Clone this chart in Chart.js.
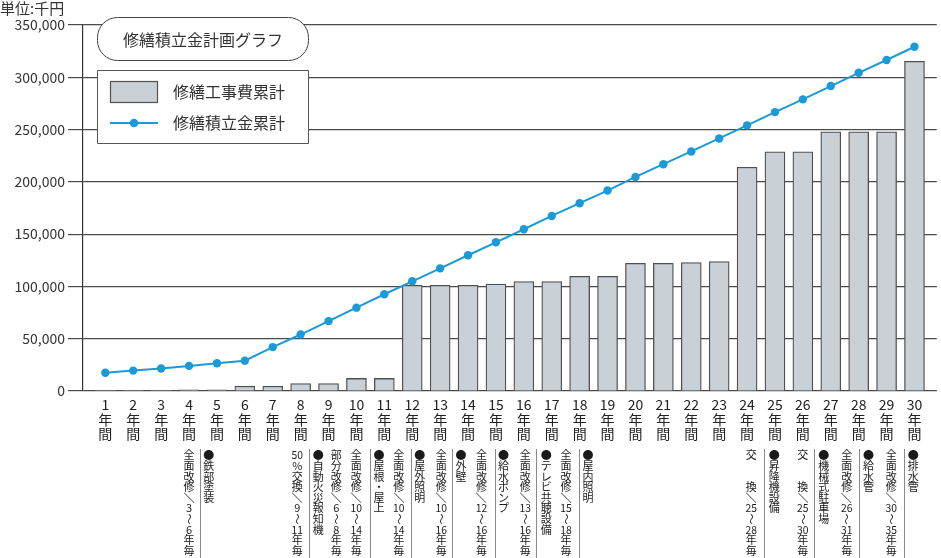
<!DOCTYPE html>
<html>
<head>
<meta charset="utf-8">
<script src="https://cdn.jsdelivr.net/npm/chart.js@4.4.1/dist/chart.umd.min.js"></script>
<style>
  html, body { margin: 0; padding: 0; background: #fff; }
  canvas { display: block; }
</style>
</head>
<body>
<canvas id="planChart" width="941" height="558"></canvas>
<script>
// 年数
const years = [1, 2, 3, 4, 5, 6, 7, 8, 9, 10, 11, 12, 13, 14, 15, 16, 17, 18, 19, 20, 21, 22, 23, 24, 25, 26, 27, 28, 29, 30];

// 修繕工事費累計 (千円)
const repairTotal = [0, 0, 0, 1000, 1000, 4600, 4600, 7200, 7200, 12000, 12000, 101000, 101000, 101000, 102300, 104600, 104600, 109600, 109600, 122100, 122100, 122800, 123700, 214000, 228700, 228700, 247800, 247800, 247800, 315200];

// 修繕積立金累計 (千円)
const reserveTotal = [17500, 19500, 21500, 24000, 26500, 29000, 42000, 54000, 66800, 79700, 92500, 104900, 117300, 129800, 142200, 154700, 167400, 179600, 191700, 204700, 216900, 229100, 241500, 254000, 266700, 278900, 291600, 304300, 316500, 329200];

// 縦軸の目盛り
const yTicks = [0, 50000, 100000, 150000, 200000, 250000, 300000, 350000];

// 下の注記 (縦書き)
const noteTexts = [
    '全面改修／3〜6年毎', '●鉄部塗装',
    '50%交換／9〜11年毎', '●自動火災報知機', '部分改修／6〜8年毎', '全面改修／10〜14年毎',
    '●屋根・屋上', '全面改修／10〜14年毎',
    '●屋外照明', '全面改修／10〜16年毎',
    '●外壁', '全面改修／12〜16年毎',
    '●給水ポンプ', '全面改修／13〜16年毎',
    '●テレビ共聴設備', '全面改修／15〜18年毎',
    '●屋内照明',
    '交　　換／25〜28年毎', '●昇降機設備',
    '交　　換／25〜30年毎', '●機械式駐車場',
    '全面改修／26〜31年毎', '●給水管',
    '全面改修／30〜35年毎', '●排水管'
];
// 注記の位置 (年の目盛り単位)
const noteAt = [4.0, 4.71, 7.88, 8.63, 9.28, 9.99, 10.81, 11.52, 12.27, 13.04, 13.75, 14.48,
    15.27, 16.05, 16.8, 17.51, 18.3, 24.15, 24.97, 26.0, 26.75, 27.57, 28.35, 29.17, 29.96];
const separatorAt = [4.41, 8.31, 10.47, 11.95, 13.41, 14.98, 16.45, 17.98, 24.61, 26.41, 28.01, 29.62];

const FONT = '"Noto Sans CJK JP", "Noto Sans", sans-serif';
const BLUE = '#1a9ad6';
const BAR_FILL = '#c9d1d7';
const DARK = '#505050';

function splitCells(str) {
    return str.match(/\d+|./gu) || [];
}

// 一文字ずつ縦に並べる (数字2桁は横組み)
function drawVertical(ctx, str, x, y0, pitch) {
    splitCells(str).forEach((t, k) => {
        const cy = y0 + k * pitch + pitch / 2;
        if (t === '〜' || t === '／') {
            ctx.save();
            ctx.translate(x, cy);
            ctx.rotate(Math.PI / 2);
            ctx.fillText(t, 0, 0);
            ctx.restore();
        } else if (t.length > 1) {
            ctx.fillText(t, x, cy, 11.5);
        } else {
            ctx.fillText(t, x, cy);
        }
    });
}

function roundRect(ctx, x, y, w, h, r) {
    ctx.beginPath();
    ctx.moveTo(x + r, y);
    ctx.lineTo(x + w - r, y);
    ctx.arc(x + w - r, y + r, r, -Math.PI / 2, 0);
    ctx.lineTo(x + w, y + h - r);
    ctx.arc(x + w - r, y + h - r, r, 0, Math.PI / 2);
    ctx.lineTo(x + r, y + h);
    ctx.arc(x + r, y + h - r, r, Math.PI / 2, Math.PI);
    ctx.lineTo(x, y + r);
    ctx.arc(x + r, y + r, r, Math.PI, Math.PI * 1.5);
    ctx.closePath();
}

// 目盛りラベル、注記、タイトル、凡例を描く
const decorations = {
    id: 'decorations',
    afterDraw(chart) {
        const ctx = chart.ctx;
        const xs = chart.scales.x;
        ctx.save();

        // 単位
        ctx.fillStyle = '#333';
        ctx.font = '15px ' + FONT;
        ctx.textAlign = 'left';
        ctx.textBaseline = 'middle';
        ctx.fillText('単位:千円', 0, 8);

        // 年の目盛り
        ctx.fillStyle = '#222';
        ctx.textAlign = 'center';
        ctx.font = '14px ' + FONT;
        years.forEach(y => {
            const px = xs.getPixelForValue(y);
            ctx.fillText(String(y), px, 405);
            ctx.fillText('年', px, 419.5);
            ctx.fillText('間', px, 433.5);
        });

        // 区切り線
        ctx.strokeStyle = '#8a8a8a';
        ctx.lineWidth = 1;
        separatorAt.forEach(v => {
            const px = Math.round(xs.getPixelForValue(v)) + 0.5;
            ctx.beginPath();
            ctx.moveTo(px, 449);
            ctx.lineTo(px, 558);
            ctx.stroke();
        });

        // 注記
        ctx.font = '11px ' + FONT;
        ctx.fillStyle = '#1a1a1a';
        noteTexts.forEach((t, i) => {
            drawVertical(ctx, t, xs.getPixelForValue(noteAt[i]), 450, 10.6);
        });

        // タイトル
        ctx.fillStyle = '#fff';
        ctx.strokeStyle = '#444';
        ctx.lineWidth = 1;
        roundRect(ctx, 97.5, 17.5, 211, 43, 20);
        ctx.fill();
        ctx.stroke();
        ctx.fillStyle = '#333';
        ctx.font = '16px ' + FONT;
        ctx.textAlign = 'center';
        ctx.fillText('修繕積立金計画グラフ', 203, 39.5);

        // 凡例
        ctx.fillStyle = '#fff';
        ctx.strokeStyle = '#555';
        ctx.beginPath();
        ctx.rect(97.5, 70.5, 211, 73);
        ctx.fill();
        ctx.stroke();

        ctx.fillStyle = BAR_FILL;
        ctx.strokeStyle = DARK;
        ctx.lineWidth = 1.2;
        ctx.fillRect(110.5, 81.5, 47, 21);
        ctx.strokeRect(110.5, 81.5, 47, 21);

        ctx.strokeStyle = BLUE;
        ctx.lineWidth = 2;
        ctx.beginPath();
        ctx.moveTo(110, 123);
        ctx.lineTo(158, 123);
        ctx.stroke();
        ctx.fillStyle = BLUE;
        ctx.beginPath();
        ctx.arc(134, 123, 4.3, 0, Math.PI * 2);
        ctx.fill();

        ctx.fillStyle = '#333';
        ctx.font = '16px ' + FONT;
        ctx.textAlign = 'left';
        ctx.fillText(chart.data.datasets[0].label, 173, 92);
        ctx.fillText(chart.data.datasets[1].label, 173, 123);

        ctx.restore();
    }
};

document.addEventListener('DOMContentLoaded', () => {
    new Chart(document.getElementById('planChart').getContext('2d'), {
        data: {
            datasets: [{
                type: 'bar',
                label: '修繕工事費累計',
                data: years.map((y, i) => ({ x: y, y: repairTotal[i] })),
                backgroundColor: BAR_FILL,
                borderColor: DARK,
                // 0 の年は枠線も描かない
                borderWidth: c => (c.raw && c.raw.y ? 1.3 : 0),
                barThickness: 20,
                order: 2
            }, {
                type: 'line',
                label: '修繕積立金累計',
                data: years.map((y, i) => ({ x: y, y: reserveTotal[i] })),
                borderColor: BLUE,
                backgroundColor: BLUE,
                borderWidth: 2,
                pointRadius: 4.2,
                pointBorderWidth: 0,
                tension: 0,
                order: 1
            }]
        },
        options: {
            responsive: false,
            animation: false,
            layout: { padding: { top: 25, left: 0, right: 0, bottom: 0 } },
            plugins: {
                legend: { display: false },
                tooltip: { enabled: false }
            },
            scales: {
                x: {
                    type: 'linear',
                    min: 0.2,
                    max: 30.8,
                    offset: false,
                    grid: { display: false, offset: false },
                    border: { display: false },
                    ticks: { display: false },
                    afterFit(scale) { scale.height = 167; }
                },
                y: {
                    min: 0,
                    max: 350000,
                    afterBuildTicks(scale) {
                        scale.ticks = yTicks.map(v => ({ value: v }));
                    },
                    grid: {
                        color: '#4a4a4a',
                        lineWidth: 1.2,
                        tickLength: 15
                    },
                    border: { display: true, color: '#333', width: 1.2 },
                    ticks: {
                        color: '#333',
                        padding: 3,
                        font: { family: FONT, size: 14 },
                        callback: v => v.toLocaleString('en-US')
                    },
                    afterFit(scale) { scale.width = 83; }
                }
            }
        },
        plugins: [decorations]
    });
});
</script>
</body>
</html>
